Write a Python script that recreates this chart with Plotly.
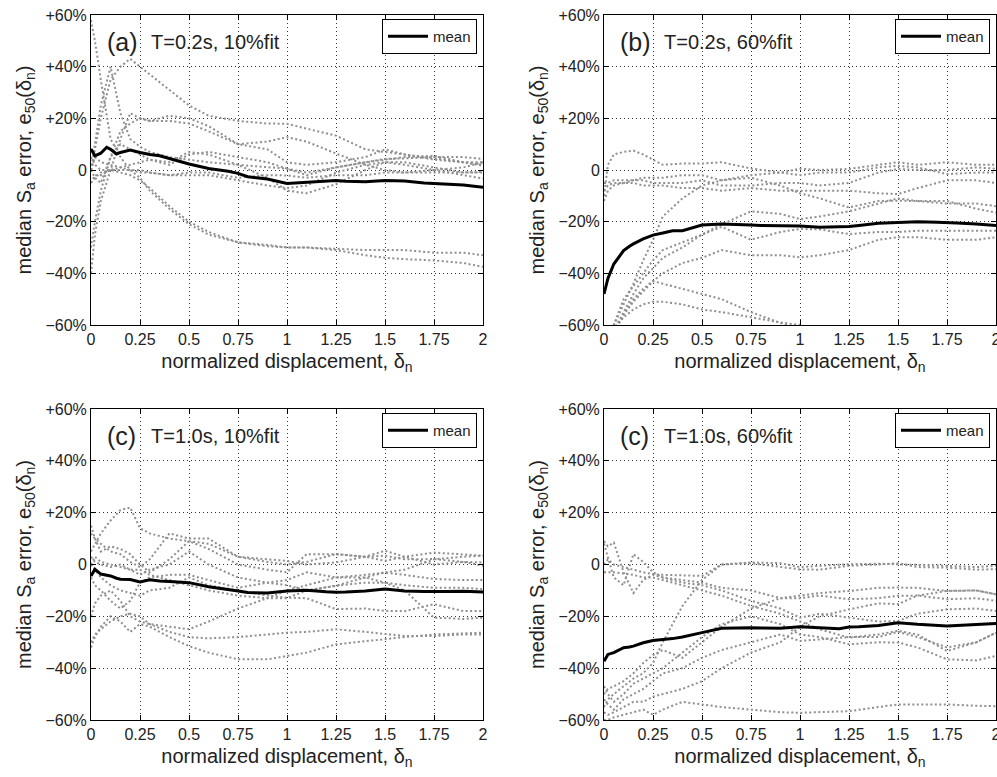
import plotly.graph_objects as go

# ---------------- data ----------------
G = [0, 0.02, 0.05, 0.1, 0.15, 0.2, 0.25, 0.3, 0.4, 0.5, 0.6, 0.75, 0.9, 1.0,
     1.1, 1.25, 1.4, 1.5, 1.6, 1.75, 1.9, 2.0]
MX = [0, 0.02, 0.05, 0.08, 0.1, 0.13, 0.15, 0.2, 0.25, 0.3, 0.35, 0.4, 0.45, 0.5,
      0.6, 0.7, 0.75, 0.8, 0.9, 1.0, 1.1, 1.2, 1.25, 1.3, 1.4, 1.5, 1.6, 1.7,
      1.75, 1.8, 1.9, 2.0]

mean_a = [8.1, 5.5, 6.5, 8.8, 8.0, 6.2, 6.8, 7.7, 6.8, 6.0, 5.5, 4.3, 3.4, 2.3,
          0.6, -0.5, -1.3, -2.6, -3.5, -5.2, -4.8, -4.5, -4.1, -4.4, -4.5, -4.1,
          -4.3, -5.0, -5.2, -5.4, -5.8, -6.7]
mean_b = [-48, -42, -36.4, -33, -31.2, -29.5, -28.6, -26.7, -25.2, -24.4, -23.5,
          -23.5, -22.5, -21.3, -20.9, -21.0, -21.3, -21.5, -21.7, -21.7, -22.2,
          -22.0, -21.9, -21.5, -20.6, -20.3, -20.0, -20.2, -20.3, -20.5, -20.9, -21.5]
mean_c = [-4.4, -1.8, -3.7, -4.0, -4.4, -5.3, -5.7, -5.8, -6.7, -5.9, -6.4, -6.6,
          -6.8, -7.0, -8.6, -9.5, -10.2, -10.8, -11.0, -10.2, -9.9, -10.5, -10.7,
          -10.6, -10.2, -9.5, -10.2, -10.4, -10.5, -10.4, -10.3, -10.6]
mean_d = [-37.3, -34.7, -34.0, -33, -32.1, -31.8, -31.5, -30.2, -29.3, -28.9, -28.6,
          -28.0, -27.0, -26.3, -24.6, -24.4, -24.4, -24.5, -24.6, -24.0, -24.4,
          -24.8, -24.1, -24.0, -23.5, -22.5, -23.1, -23.5, -23.7, -23.5, -23.1, -22.8]

gray_a = [
    [0, 8, 20, 35, 40, 43, 40, 37, 31, 25, 21, 19, 18, 17.9, 16, 13.3, 8, 7, 6, 4.5, 3, 1.7],
    [0, 10, 25, 40, 22, 12, 9, 7, 5, 4, 3, 2, 1, 0.5, -1, 1, 3, 4.3, 4.5, 5, 5, 4.3],
    [58, 50, 35, 12, 5, 0, -3, -8, -15, -21, -25, -28, -29.5, -30, -30, -31, -33, -34, -34.5, -35, -36, -37.5],
    [-40, -25, -12, 0, 12, 22, 20, 19, 19, 18, 15, 10, 11, 12.7, 11, 6.4, 2, 0, -1, -1, -0.8, -0.8],
    [-30, -20, -8, 5, 15, 18, 20, 19, 21, 20, 17, 10, 8, 3, 2, 3, 5, 8, 6, 4, 3, 3],
    [-5, -2, -2, 0, -1, -2, -4, -7, -14, -20, -24, -28, -29, -30, -30, -30.5, -31, -31, -31, -32, -32, -33],
    [0, -3, -5, 5, 10, 8, 6, 4, 2, 6, 7, 5, 3, 0.5, -2, 1, 3, 4, 5, 5.5, 3, 2],
    [5, 2, 0, 0, 1, 2, 3, 4, 3, 7, 6, 2, -3, -8, -9, -5.5, 0, 3, 2, 0, -2, -3.3],
    [-5, -3, -1, 0, 0, 0, -1, -1, -2, -2, -2, -4, -6, -7, -6, -1, 2, 3, 3, 1, -1, -1],
    [0, 5, 3, 2, 1, 0, 0, -1, -2, -1, -1, -3, -2, -2.1, -3, -2, -2, -1, -1, 0, 1, 3],
]
gray_b = [
    [-10, 2, 6, 7, 7.5, 6, 4, 2, 2.5, 2.5, 3, 0.6, -1, 0.5, 0, 0.4, 2, 3, 2, 3, 2, 2],
    [-5, -5, -4, -4, -4, -3, -3, -3, -2, -2, -4, -2, -1, -2, -1, -1, 1, 1.6, 1, -1.6, -1, -1],
    [-8, -6, -5, -5, -4, -4, -5, -5, -5, -4, -6, -6, -5, -5, -6, -5, -1, 0.4, 0, 0, 1, 0.5],
    [-12, -8, -6, -5, -5, -6, -6, -6, -7, -7, -8, -7, -8, -8, -8, -8, -9, -9.3, -7, -4, -4, -5],
    [-66, -64, -60, -52, -44, -35, -27, -18, -11, -6, -4, -3, -6, -9, -11, -14.5, -12, -11.9, -12, -13, -13, -14],
    [-70, -66, -60, -50, -45, -40, -35, -31, -28, -25, -21, -16, -17, -19, -18, -16, -13, -11, -12, -12, -15, -16.5],
    [-70, -66, -62, -55, -48, -42, -38, -34, -30, -25, -22, -27, -24, -22.8, -23, -24.8, -24, -24, -23.5, -23.5, -23.5, -23.5],
    [-70, -66, -62, -56, -50, -46, -43, -40, -36, -34, -31, -33, -33, -33.8, -33, -31, -27, -26, -26, -27, -27, -26],
    [-70, -66, -62, -56, -51, -47, -43, -44, -46, -48, -50, -55, -59, -62, -64, -66, -68, -69, -70, -70, -70, -70],
    [-70, -66, -62, -57, -54, -52, -51, -51, -52, -54, -55, -57, -59, -60, -62, -64, -66, -67, -68, -69, -70, -70],
]
gray_c = [
    [5, 8, 12, 17, 21, 22, 14, 12, 10, 9, 8, 3, 1, 0, 1, 4, 3, 5.3, 3, 4.6, 4, 3.4],
    [12, 10, 8, 5, 4, 1, -1, 2, 12, 10, 10, 3, 2, 1.4, 0, 0.8, 3, 3.4, 2, 2.1, 1, 0.8],
    [15, 10, 5, 7, 6, 4, 0, -3, 2, 9, 6, 0, -2, -3, 4, 4, 3, 1.4, 3, 0, 1, -0.5],
    [0, 3, 1, 0, -1, -2, -4, -2, 0, 5, 0, -5, -7, -6, -3, -5, -4, -3.1, -4, -5.6, -6, -6],
    [3, 1, 0, -1, 0, -2, -2, -4, -6, -8, -10, -12, -13, -13, -10, -8.2, -7, -7, -8, -9, -9, -9.5],
    [0, -2, -5, -8, -10, -11, -12, -10, -9, -5, -8, -10, -12, -12.8, -13, -17.2, -17, -17.9, -18, -15.3, -18, -17.9],
    [-5, -8, -10, -14, -17, -14, -7, -5, -4, -4, -6, -9, -7, -8, -10, -8.2, -5, -3, -2, 2, 3, 3.4],
    [-20, -15, -12, -10, -14, -20, -22, -23, -24, -25, -22, -17, -13, -10, -8, -5, -5, -7, -10, -20.5, -21, -20.5],
    [-30, -27, -25, -22, -20, -19, -20, -23, -26, -28, -28.5, -28, -27, -26.3, -26, -25, -26, -26.9, -27.6, -27.6, -27, -27],
    [-32, -28, -24, -20, -22, -26, -23, -24, -28, -31.5, -34, -36.6, -36.6, -35.3, -34, -30.8, -29.5, -28.9, -28, -27, -26.5, -26.3],
]
gray_d = [
    [0, 2, 0, -1, -2, -3, -3.7, -4, -4.2, -4.4, 0, 0.8, 0.5, -1, -0.5, 0.1, 0.3, 0.1, 0, -0.5, -1, -0.5],
    [9, 7, 8.5, -3, -11, -6, -4, -5, -6, -7, -9, -10, -13, -12, -11, -10.2, -9, -8.9, -9, -10.2, -10, -11.5],
    [8, 3, -5, -8, 4, 1, -3, -5, -7, -8, -10, -14, -17, -20.5, -19, -20.5, -22, -21.8, -19, -17.3, -17, -17.9],
    [-3, -3, -3, -3.5, -4, -5, -5, -6, -8, -10, -12, -16, -19, -22, -25, -28.2, -27, -25.6, -27, -33.4, -30, -26.3],
    [-55, -52, -50, -47, -44, -42, -38, -30, -16, -6, 0, 0.5, -1, -1.9, -2, -0.5, 0, 0.5, -1, -1.2, -2, -1.8],
    [-50, -48, -47, -45, -42, -38, -35, -33, -36, -30, -24, -17, -13, -13, -12, -13.4, -13, -12.1, -12, -13.4, -13, -14],
    [-47, -50, -53, -50, -46, -44, -42, -40, -34, -28, -23, -20, -23, -27, -28, -30.8, -30, -30.1, -32, -36.6, -37, -35.3],
    [-52, -54, -56, -52, -50, -48, -45, -42, -40, -36, -33, -30, -27, -29.5, -29, -28, -28, -26, -28, -32, -30, -26.3],
    [-57, -58, -57, -55, -53, -53, -51, -50, -48, -45, -40, -34, -30, -24, -20, -17.3, -15, -15.3, -12, -10.2, -10, -11.5],
    [-60, -60, -59, -58, -57, -56, -58, -56, -53, -54, -55, -56, -57, -57.2, -57, -56.6, -55, -54, -54, -54, -54.5, -54.7],
]

panel_tags = ["(a)", "(b)", "(c)", "(c)"]
panel_titles = ["T=0.2s, 10%fit", "T=0.2s, 60%fit", "T=1.0s, 10%fit", "T=1.0s, 60%fit"]
x_ticks = [0, 0.25, 0.5, 0.75, 1, 1.25, 1.5, 1.75, 2]
x_tick_text = ["0", "0.25", "0.5", "0.75", "1", "1.25", "1.5", "1.75", "2"]
y_ticks = [-60, -40, -20, 0, 20, 40, 60]
y_tick_text = ["\u221260%", "\u221240%", "\u221220%", "0", "+20%", "+40%", "+60%"]
legend_label = "mean"

# ---------------- layout geometry ----------------
W, H = 997, 777
FONT = "Liberation Sans, Arial, Helvetica, sans-serif"
xdom = [[91 / W, 483 / W], [604 / W, 996 / W], [91 / W, 483 / W], [604 / W, 996 / W]]
ydom = [[(H - 325) / H, (H - 15) / H], [(H - 325) / H, (H - 15) / H],
        [(H - 720) / H, (H - 409) / H], [(H - 720) / H, (H - 409) / H]]

fig = go.Figure()
means = [mean_a, mean_b, mean_c, mean_d]
grays = [gray_a, gray_b, gray_c, gray_d]

for i in range(4):
    sx = "" if i == 0 else str(i + 1)
    for g in grays[i]:
        fig.add_trace(go.Scatter(
            x=G, y=g, mode="lines", xaxis="x" + sx, yaxis="y" + sx,
            line=dict(color="#8f8f8f", width=2, dash="2px,2.5px"),
            showlegend=False, hoverinfo="skip"))
    fig.add_trace(go.Scatter(
        x=MX, y=means[i], mode="lines", xaxis="x" + sx, yaxis="y" + sx,
        line=dict(color="black", width=3), name=legend_label,
        legend="legend" + sx, showlegend=True))

layout = dict(
    width=W, height=H, margin=dict(l=0, r=0, t=0, b=0),
    paper_bgcolor="white", plot_bgcolor="white",
    font=dict(family=FONT, color="#222", size=16),
    annotations=[],
)

for i in range(4):
    sx = "" if i == 0 else str(i + 1)
    layout["xaxis" + sx] = dict(
        domain=xdom[i], anchor="y" + sx, range=[0, 2],
        tickvals=x_ticks, ticktext=x_tick_text,
        ticks="inside", ticklen=5, tickcolor="black",
        showline=True, linecolor="black", linewidth=1, mirror="ticks",
        showgrid=True, gridcolor="#333", gridwidth=1, griddash="1px,3px",
        zeroline=False, tickfont=dict(size=16, family=FONT, color="#222"),
        ticklabeloverflow="allow",
        title=dict(text="normalized displacement, \u03b4<sub>n</sub>",
                   font=dict(size=20, family=FONT, color="#222"), standoff=6),
        automargin=False,
    )
    layout["yaxis" + sx] = dict(
        domain=ydom[i], anchor="x" + sx, range=[-60, 60],
        tickvals=y_ticks, ticktext=y_tick_text,
        ticks="inside", ticklen=5, tickcolor="black",
        showline=True, linecolor="black", linewidth=1, mirror="ticks",
        showgrid=True, gridcolor="#333", gridwidth=1, griddash="1px,3px",
        zeroline=False, tickfont=dict(size=16, family=FONT, color="#222"),
        ticklabeloverflow="allow",
        title=dict(text="median S<sub>a</sub> error, e<sub>50</sub>(\u03b4<sub>n</sub>)",
                   font=dict(size=20, family=FONT, color="#222"), standoff=8),
        automargin=False,
    )
    layout["legend" + sx] = dict(
        x=xdom[i][1] - 6 / W, y=ydom[i][1] - 4 / H, xanchor="right", yanchor="top",
        bgcolor="white", bordercolor="black", borderwidth=1,
        font=dict(size=15, family=FONT, color="#222"),
        itemwidth=40, tracegroupgap=0,
    )
    layout["annotations"].append(dict(
        x=xdom[i][0] + 14 / W, y=ydom[i][1] - 27 / H, xref="paper", yref="paper",
        text=panel_tags[i], showarrow=False, xanchor="left", yanchor="middle",
        font=dict(size=25, family=FONT, color="#222")))
    layout["annotations"].append(dict(
        x=xdom[i][0] + 58 / W, y=ydom[i][1] - 27 / H, xref="paper", yref="paper",
        text=panel_titles[i], showarrow=False, xanchor="left", yanchor="middle",
        font=dict(size=20, family=FONT, color="#222")))

fig.update_layout(**layout)
fig.write_html("out.html")
